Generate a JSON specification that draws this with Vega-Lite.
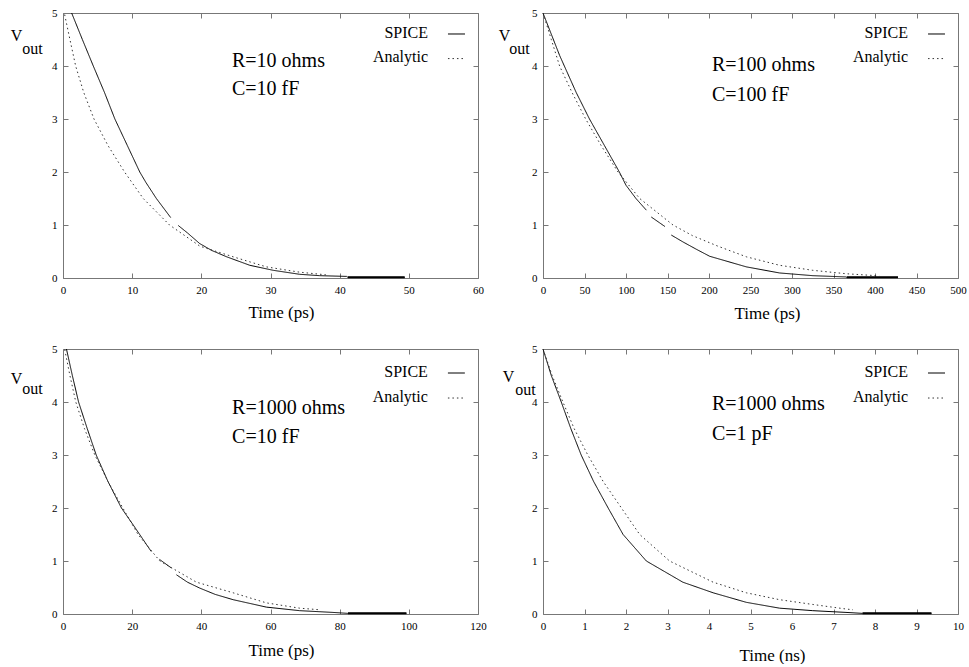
{
  "$schema": "https://vega.github.io/schema/vega-lite/v6.json",
  "padding": {"left": 9, "top": 6, "right": 0, "bottom": 0},
  "config": {
    "font": "Liberation Serif",
    "view": {"stroke": "#777777", "strokeWidth": 1},
    "style": {"guide-title": {"fontWeight": "normal"}},
    "axis": {"domain": false, "grid": false, "tickSize": -5, "tickColor": "#777777", "tickWidth": 1, "labelFontSize": 11, "labelColor": "#000000", "labelPadding": 11, "labelFlush": false, "labelOverlap": false, "titleFontSize": 17, "titleFontWeight": "normal", "titleColor": "#000000", "labelFont": "Liberation Serif", "titleFont": "Liberation Serif"},
    "text": {"font": "Liberation Serif", "color": "#000000"}
  },
  "datasets": {
    "one": [{"k": 1}],
    "p1": [
      {"t":1.25,"v":5.0,"s":"SPICE","g":"a"},{"t":2.8,"v":4.5,"s":"SPICE","g":"a"},{"t":4.38,"v":4.0,"s":"SPICE","g":"a"},{"t":6.0,"v":3.5,"s":"SPICE","g":"a"},{"t":7.5,"v":3.0,"s":"SPICE","g":"a"},{"t":9.3,"v":2.5,"s":"SPICE","g":"a"},{"t":11.1,"v":2.0,"s":"SPICE","g":"a"},{"t":12.0,"v":1.8,"s":"SPICE","g":"a"},{"t":13.5,"v":1.5,"s":"SPICE","g":"a"},{"t":15.57,"v":1.14,"s":"SPICE","g":"a"},
      {"t":16.67,"v":0.99,"s":"SPICE","g":"b"},{"t":18.0,"v":0.85,"s":"SPICE","g":"b"},{"t":19.76,"v":0.65,"s":"SPICE","g":"b"},{"t":21.5,"v":0.52,"s":"SPICE","g":"b"},{"t":23.66,"v":0.4,"s":"SPICE","g":"b"},{"t":27.0,"v":0.24,"s":"SPICE","g":"b"},{"t":30.4,"v":0.145,"s":"SPICE","g":"b"},{"t":34.2,"v":0.07,"s":"SPICE","g":"b"},{"t":37.1,"v":0.044,"s":"SPICE","g":"b"},{"t":41.0,"v":0.03,"s":"SPICE","g":"b"},{"t":41.2,"v":0.012,"s":"SPICE","g":"b"},
      {"t":41.2,"v":0.012,"s":"SPICE","g":"t"},{"t":49.4,"v":0.012,"s":"SPICE","g":"t"},
      {"t":0.24,"v":4.97,"s":"Analytic","g":"a"},{"t":1.0,"v":4.5,"s":"Analytic","g":"a"},{"t":1.83,"v":4.0,"s":"Analytic","g":"a"},{"t":3.0,"v":3.5,"s":"Analytic","g":"a"},{"t":4.48,"v":3.0,"s":"Analytic","g":"a"},{"t":6.5,"v":2.5,"s":"Analytic","g":"a"},{"t":8.9,"v":2.0,"s":"Analytic","g":"a"},{"t":11.6,"v":1.5,"s":"Analytic","g":"a"},{"t":15.4,"v":1.0,"s":"Analytic","g":"a"},{"t":19.8,"v":0.6,"s":"Analytic","g":"a"},{"t":24.6,"v":0.4,"s":"Analytic","g":"a"},{"t":29.4,"v":0.21,"s":"Analytic","g":"a"},{"t":34.2,"v":0.11,"s":"Analytic","g":"a"},{"t":38.0,"v":0.06,"s":"Analytic","g":"a"}
    ],
    "p2": [
      {"t":0,"v":5.0,"s":"SPICE","g":"a"},{"t":10,"v":4.6,"s":"SPICE","g":"a"},{"t":20,"v":4.2,"s":"SPICE","g":"a"},{"t":30,"v":3.85,"s":"SPICE","g":"a"},{"t":40,"v":3.5,"s":"SPICE","g":"a"},{"t":56,"v":3.0,"s":"SPICE","g":"a"},{"t":74,"v":2.5,"s":"SPICE","g":"a"},{"t":92,"v":2.0,"s":"SPICE","g":"a"},{"t":100,"v":1.75,"s":"SPICE","g":"a"},{"t":112,"v":1.5,"s":"SPICE","g":"a"},{"t":124.5,"v":1.28,"s":"SPICE","g":"a"},
      {"t":130.5,"v":1.15,"s":"SPICE","g":"b"},{"t":140.6,"v":1.04,"s":"SPICE","g":"b"},{"t":147,"v":0.97,"s":"SPICE","g":"b"},
      {"t":154.6,"v":0.81,"s":"SPICE","g":"c"},{"t":168.7,"v":0.68,"s":"SPICE","g":"c"},{"t":185,"v":0.54,"s":"SPICE","g":"c"},{"t":200.8,"v":0.41,"s":"SPICE","g":"c"},{"t":245,"v":0.21,"s":"SPICE","g":"c"},{"t":285,"v":0.095,"s":"SPICE","g":"c"},{"t":325,"v":0.044,"s":"SPICE","g":"c"},{"t":365,"v":0.02,"s":"SPICE","g":"c"},{"t":366,"v":0.012,"s":"SPICE","g":"c"},
      {"t":366,"v":0.012,"s":"SPICE","g":"t"},{"t":427.7,"v":0.012,"s":"SPICE","g":"t"},
      {"t":0,"v":5.0,"s":"Analytic","g":"a"},{"t":10,"v":4.5,"s":"Analytic","g":"a"},{"t":20,"v":4.0,"s":"Analytic","g":"a"},{"t":35,"v":3.5,"s":"Analytic","g":"a"},{"t":51.4,"v":3.0,"s":"Analytic","g":"a"},{"t":70,"v":2.5,"s":"Analytic","g":"a"},{"t":90.4,"v":2.0,"s":"Analytic","g":"a"},{"t":116.5,"v":1.5,"s":"Analytic","g":"a"},{"t":156.6,"v":1.0,"s":"Analytic","g":"a"},{"t":180,"v":0.8,"s":"Analytic","g":"a"},{"t":210.8,"v":0.6,"s":"Analytic","g":"a"},{"t":245,"v":0.4,"s":"Analytic","g":"a"},{"t":285,"v":0.24,"s":"Analytic","g":"a"},{"t":325,"v":0.145,"s":"Analytic","g":"a"},{"t":365.5,"v":0.08,"s":"Analytic","g":"a"},{"t":401.6,"v":0.044,"s":"Analytic","g":"a"},{"t":405,"v":0.04,"s":"Analytic","g":"a"}
    ],
    "p3": [
      {"t":1,"v":5.0,"s":"SPICE","g":"a"},{"t":2.7,"v":4.5,"s":"SPICE","g":"a"},{"t":4.5,"v":4.0,"s":"SPICE","g":"a"},{"t":7,"v":3.5,"s":"SPICE","g":"a"},{"t":9.6,"v":3.0,"s":"SPICE","g":"a"},{"t":13,"v":2.5,"s":"SPICE","g":"a"},{"t":16.9,"v":2.0,"s":"SPICE","g":"a"},{"t":20.2,"v":1.69,"s":"SPICE","g":"a"},{"t":25.5,"v":1.18,"s":"SPICE","g":"a"},
      {"t":27.9,"v":1.03,"s":"SPICE","g":"b"},{"t":31.3,"v":0.87,"s":"SPICE","g":"b"},
      {"t":32.8,"v":0.74,"s":"SPICE","g":"c"},{"t":36,"v":0.6,"s":"SPICE","g":"c"},{"t":39.5,"v":0.49,"s":"SPICE","g":"c"},{"t":44,"v":0.37,"s":"SPICE","g":"c"},{"t":49.2,"v":0.27,"s":"SPICE","g":"c"},{"t":58.8,"v":0.13,"s":"SPICE","g":"c"},{"t":68.4,"v":0.063,"s":"SPICE","g":"c"},{"t":78,"v":0.03,"s":"SPICE","g":"c"},{"t":82.4,"v":0.012,"s":"SPICE","g":"c"},
      {"t":82.4,"v":0.012,"s":"SPICE","g":"t"},{"t":99.3,"v":0.012,"s":"SPICE","g":"t"},
      {"t":0.5,"v":4.99,"s":"Analytic","g":"a"},{"t":2,"v":4.5,"s":"Analytic","g":"a"},{"t":3.7,"v":4.0,"s":"Analytic","g":"a"},{"t":6.2,"v":3.5,"s":"Analytic","g":"a"},{"t":9.2,"v":3.0,"s":"Analytic","g":"a"},{"t":13,"v":2.5,"s":"Analytic","g":"a"},{"t":17.3,"v":2.0,"s":"Analytic","g":"a"},{"t":21.7,"v":1.5,"s":"Analytic","g":"a"},{"t":28,"v":1.0,"s":"Analytic","g":"a"},{"t":38.6,"v":0.6,"s":"Analytic","g":"a"},{"t":49.2,"v":0.4,"s":"Analytic","g":"a"},{"t":58.8,"v":0.21,"s":"Analytic","g":"a"},{"t":68.4,"v":0.11,"s":"Analytic","g":"a"},{"t":74.2,"v":0.08,"s":"Analytic","g":"a"}
    ],
    "p4": [
      {"t":0,"v":5.0,"s":"SPICE","g":"a"},{"t":0.2,"v":4.5,"s":"SPICE","g":"a"},{"t":0.44,"v":4.0,"s":"SPICE","g":"a"},{"t":0.67,"v":3.5,"s":"SPICE","g":"a"},{"t":0.92,"v":3.0,"s":"SPICE","g":"a"},{"t":1.22,"v":2.5,"s":"SPICE","g":"a"},{"t":1.57,"v":2.0,"s":"SPICE","g":"a"},{"t":1.93,"v":1.5,"s":"SPICE","g":"a"},{"t":2.49,"v":1.0,"s":"SPICE","g":"a"},{"t":3.37,"v":0.6,"s":"SPICE","g":"a"},{"t":4.1,"v":0.4,"s":"SPICE","g":"a"},{"t":4.9,"v":0.22,"s":"SPICE","g":"a"},{"t":5.7,"v":0.11,"s":"SPICE","g":"a"},{"t":6.5,"v":0.063,"s":"SPICE","g":"a"},{"t":7.3,"v":0.03,"s":"SPICE","g":"a"},{"t":7.7,"v":0.012,"s":"SPICE","g":"a"},
      {"t":7.7,"v":0.012,"s":"SPICE","g":"t"},{"t":9.36,"v":0.012,"s":"SPICE","g":"t"},
      {"t":0,"v":5.0,"s":"Analytic","g":"a"},{"t":0.22,"v":4.5,"s":"Analytic","g":"a"},{"t":0.48,"v":4.0,"s":"Analytic","g":"a"},{"t":0.75,"v":3.5,"s":"Analytic","g":"a"},{"t":1.08,"v":3.0,"s":"Analytic","g":"a"},{"t":1.45,"v":2.5,"s":"Analytic","g":"a"},{"t":1.89,"v":2.0,"s":"Analytic","g":"a"},{"t":2.33,"v":1.5,"s":"Analytic","g":"a"},{"t":3.05,"v":1.0,"s":"Analytic","g":"a"},{"t":4.1,"v":0.6,"s":"Analytic","g":"a"},{"t":4.9,"v":0.4,"s":"Analytic","g":"a"},{"t":5.7,"v":0.27,"s":"Analytic","g":"a"},{"t":6.5,"v":0.18,"s":"Analytic","g":"a"},{"t":7.3,"v":0.094,"s":"Analytic","g":"a"},{"t":7.47,"v":0.08,"s":"Analytic","g":"a"}
    ]
  },
  "columns": 2,
  "spacing": {"row": 71, "column": 65},
  "bounds": "flush",
  "concat": [
    {
      "width": 415, "height": 265,
      "resolve": {"axis": {"x": "independent", "y": "independent"}},
      "layer": [
        {
          "data": {"name": "p1"},
          "mark": {"type": "line", "strokeWidth": 1},
          "encoding": {
            "x": {"field": "t", "type": "quantitative", "scale": {"domain": [0, 60], "nice": false, "zero": false}, "axis": {"orient": "bottom", "values": [0,10,20,30,40,50,60], "title": "Time (ps)", "titleX": 218, "titleY": 39, "titleAlign": "center", "titleBaseline": "alphabetic", "titleFontWeight": "normal"}},
            "y": {"field": "v", "type": "quantitative", "scale": {"domain": [0, 5], "nice": false}, "axis": {"orient": "left", "values": [0,1,2,3,4,5], "title": "V", "titleX": -47, "titleY": 27, "titleAngle": 0, "titleAlign": "center", "titleBaseline": "alphabetic", "titleFontSize": 16, "titleFontWeight": "normal"}},
            "detail": {"field": "g", "type": "nominal"},
            "color": {"field": "s", "type": "nominal", "scale": {"domain": ["SPICE", "Analytic"], "range": ["#000000", "#333333"]}, "legend": null},
            "strokeDash": {"field": "s", "type": "nominal", "scale": {"domain": ["SPICE", "Analytic"], "range": [[1, 0], [1.5, 3]]}, "legend": null}
          }
        },
        {
          "data": {"name": "p1"},
          "transform": [{"filter": "datum.g === 't'"}],
          "mark": {"type": "line", "strokeWidth": 2, "color": "#000000"},
          "encoding": {"x": {"field": "t", "type": "quantitative", "axis": null}, "y": {"field": "v", "type": "quantitative", "axis": null}}
        },
        {
          "data": {"name": "one"},
          "mark": {"type": "text", "align": "left", "baseline": "alphabetic", "fontSize": 20, "lineHeight": 28, "text": ["R=10 ohms", "C=10 fF"]},
          "encoding": {
            "x": {"datum": 24.43, "type": "quantitative", "axis": {"orient": "top", "values": [0,10,20,30,40,50,60], "labels": false, "title": null}},
            "y": {"datum": 3.98, "type": "quantitative", "axis": {"orient": "right", "values": [0,1,2,3,4,5], "labels": false, "title": "out", "titleX": -446, "titleY": 40, "titleAngle": 0, "titleAlign": "center", "titleBaseline": "alphabetic", "titleFontSize": 16, "titleFontWeight": "normal"}}
          }
        },
        {
          "data": {"name": "one"},
          "mark": {"type": "text", "align": "right", "baseline": "alphabetic", "fontSize": 16, "lineHeight": 24, "text": ["SPICE", "Analytic"]},
          "encoding": {"x": {"datum": 52.77, "type": "quantitative", "axis": null}, "y": {"datum": 4.528, "type": "quantitative", "axis": null}}
        },
        {
          "data": {"name": "one"},
          "mark": {"type": "rule", "color": "#000000", "strokeWidth": 1},
          "encoding": {"x": {"datum": 55.66, "type": "quantitative", "axis": null}, "x2": {"datum": 58.12}, "y": {"datum": 4.604, "type": "quantitative", "axis": null}}
        },
        {
          "data": {"name": "one"},
          "mark": {"type": "rule", "color": "#333333", "strokeWidth": 1, "strokeDash": [1.5, 3]},
          "encoding": {"x": {"datum": 55.66, "type": "quantitative", "axis": null}, "x2": {"datum": 58.12}, "y": {"datum": 4.14, "type": "quantitative", "axis": null}}
        }
      ]
    },
    {
      "width": 415, "height": 265,
      "resolve": {"axis": {"x": "independent", "y": "independent"}},
      "layer": [
        {
          "data": {"name": "p2"},
          "mark": {"type": "line", "strokeWidth": 1},
          "encoding": {
            "x": {"field": "t", "type": "quantitative", "scale": {"domain": [0, 500], "nice": false}, "axis": {"orient": "bottom", "values": [0,50,100,150,200,250,300,350,400,450,500], "title": "Time (ps)", "titleX": 224, "titleY": 40, "titleAlign": "center", "titleBaseline": "alphabetic", "titleFontWeight": "normal"}},
            "y": {"field": "v", "type": "quantitative", "scale": {"domain": [0, 5], "nice": false}, "axis": {"orient": "left", "values": [0,1,2,3,4,5], "title": "V", "titleX": -39, "titleY": 27, "titleAngle": 0, "titleAlign": "center", "titleBaseline": "alphabetic", "titleFontSize": 16, "titleFontWeight": "normal"}},
            "detail": {"field": "g", "type": "nominal"},
            "color": {"field": "s", "type": "nominal", "scale": {"domain": ["SPICE", "Analytic"], "range": ["#000000", "#333333"]}, "legend": null},
            "strokeDash": {"field": "s", "type": "nominal", "scale": {"domain": ["SPICE", "Analytic"], "range": [[1, 0], [1.5, 3]]}, "legend": null}
          }
        },
        {
          "data": {"name": "p2"},
          "transform": [{"filter": "datum.g === 't'"}],
          "mark": {"type": "line", "strokeWidth": 2, "color": "#000000"},
          "encoding": {"x": {"field": "t", "type": "quantitative", "axis": null}, "y": {"field": "v", "type": "quantitative", "axis": null}}
        },
        {
          "data": {"name": "one"},
          "mark": {"type": "text", "align": "left", "baseline": "alphabetic", "fontSize": 20, "lineHeight": 30, "text": ["R=100 ohms", "C=100 fF"]},
          "encoding": {
            "x": {"datum": 203.6, "type": "quantitative", "axis": {"orient": "top", "values": [0,50,100,150,200,250,300,350,400,450,500], "labels": false, "title": null}},
            "y": {"datum": 3.91, "type": "quantitative", "axis": {"orient": "right", "values": [0,1,2,3,4,5], "labels": false, "title": "out", "titleX": -439, "titleY": 40, "titleAngle": 0, "titleAlign": "center", "titleBaseline": "alphabetic", "titleFontSize": 16, "titleFontWeight": "normal"}}
          }
        },
        {
          "data": {"name": "one"},
          "mark": {"type": "text", "align": "right", "baseline": "alphabetic", "fontSize": 16, "lineHeight": 24, "text": ["SPICE", "Analytic"]},
          "encoding": {"x": {"datum": 439.8, "type": "quantitative", "axis": null}, "y": {"datum": 4.528, "type": "quantitative", "axis": null}}
        },
        {
          "data": {"name": "one"},
          "mark": {"type": "rule", "color": "#000000", "strokeWidth": 1},
          "encoding": {"x": {"datum": 463.9, "type": "quantitative", "axis": null}, "x2": {"datum": 484.3}, "y": {"datum": 4.604, "type": "quantitative", "axis": null}}
        },
        {
          "data": {"name": "one"},
          "mark": {"type": "rule", "color": "#333333", "strokeWidth": 1, "strokeDash": [1.5, 3]},
          "encoding": {"x": {"datum": 463.9, "type": "quantitative", "axis": null}, "x2": {"datum": 484.3}, "y": {"datum": 4.14, "type": "quantitative", "axis": null}}
        }
      ]
    },
    {
      "width": 415, "height": 265,
      "resolve": {"axis": {"x": "independent", "y": "independent"}},
      "layer": [
        {
          "data": {"name": "p3"},
          "mark": {"type": "line", "strokeWidth": 1},
          "encoding": {
            "x": {"field": "t", "type": "quantitative", "scale": {"domain": [0, 120], "nice": false}, "axis": {"orient": "bottom", "values": [0,20,40,60,80,100,120], "title": "Time (ps)", "titleX": 218, "titleY": 41, "titleAlign": "center", "titleBaseline": "alphabetic", "titleFontWeight": "normal"}},
            "y": {"field": "v", "type": "quantitative", "scale": {"domain": [0, 5], "nice": false}, "axis": {"orient": "left", "values": [0,1,2,3,4,5], "title": "V", "titleX": -47, "titleY": 34, "titleAngle": 0, "titleAlign": "center", "titleBaseline": "alphabetic", "titleFontSize": 16, "titleFontWeight": "normal"}},
            "detail": {"field": "g", "type": "nominal"},
            "color": {"field": "s", "type": "nominal", "scale": {"domain": ["SPICE", "Analytic"], "range": ["#000000", "#333333"]}, "legend": null},
            "strokeDash": {"field": "s", "type": "nominal", "scale": {"domain": ["SPICE", "Analytic"], "range": [[1, 0], [1.5, 3]]}, "legend": null}
          }
        },
        {
          "data": {"name": "p3"},
          "transform": [{"filter": "datum.g === 't'"}],
          "mark": {"type": "line", "strokeWidth": 2, "color": "#000000"},
          "encoding": {"x": {"field": "t", "type": "quantitative", "axis": null}, "y": {"field": "v", "type": "quantitative", "axis": null}}
        },
        {
          "data": {"name": "one"},
          "mark": {"type": "text", "align": "left", "baseline": "alphabetic", "fontSize": 20, "lineHeight": 29, "text": ["R=1000 ohms", "C=10 fF"]},
          "encoding": {
            "x": {"datum": 48.9, "type": "quantitative", "axis": {"orient": "top", "values": [0,20,40,60,80,100,120], "labels": false, "title": null}},
            "y": {"datum": 3.77, "type": "quantitative", "axis": {"orient": "right", "values": [0,1,2,3,4,5], "labels": false, "title": "out", "titleX": -446, "titleY": 44, "titleAngle": 0, "titleAlign": "center", "titleBaseline": "alphabetic", "titleFontSize": 16, "titleFontWeight": "normal"}}
          }
        },
        {
          "data": {"name": "one"},
          "mark": {"type": "text", "align": "right", "baseline": "alphabetic", "fontSize": 16, "lineHeight": 25, "text": ["SPICE", "Analytic"]},
          "encoding": {"x": {"datum": 105.5, "type": "quantitative", "axis": null}, "y": {"datum": 4.472, "type": "quantitative", "axis": null}}
        },
        {
          "data": {"name": "one"},
          "mark": {"type": "rule", "color": "#000000", "strokeWidth": 1},
          "encoding": {"x": {"datum": 111.3, "type": "quantitative", "axis": null}, "x2": {"datum": 116.2}, "y": {"datum": 4.547, "type": "quantitative", "axis": null}}
        },
        {
          "data": {"name": "one"},
          "mark": {"type": "rule", "color": "#333333", "strokeWidth": 1, "strokeDash": [1.5, 3]},
          "encoding": {"x": {"datum": 111.3, "type": "quantitative", "axis": null}, "x2": {"datum": 116.2}, "y": {"datum": 4.075, "type": "quantitative", "axis": null}}
        }
      ]
    },
    {
      "width": 415, "height": 265,
      "resolve": {"axis": {"x": "independent", "y": "independent"}},
      "layer": [
        {
          "data": {"name": "p4"},
          "mark": {"type": "line", "strokeWidth": 1},
          "encoding": {
            "x": {"field": "t", "type": "quantitative", "scale": {"domain": [0, 10], "nice": false}, "axis": {"orient": "bottom", "values": [0,1,2,3,4,5,6,7,8,9,10], "title": "Time (ns)", "titleX": 229, "titleY": 46, "titleAlign": "center", "titleBaseline": "alphabetic", "titleFontWeight": "normal"}},
            "y": {"field": "v", "type": "quantitative", "scale": {"domain": [0, 5], "nice": false}, "axis": {"orient": "left", "values": [0,1,2,3,4,5], "title": "V", "titleX": -35, "titleY": 32, "titleAngle": 0, "titleAlign": "center", "titleBaseline": "alphabetic", "titleFontSize": 16, "titleFontWeight": "normal"}},
            "detail": {"field": "g", "type": "nominal"},
            "color": {"field": "s", "type": "nominal", "scale": {"domain": ["SPICE", "Analytic"], "range": ["#000000", "#333333"]}, "legend": null},
            "strokeDash": {"field": "s", "type": "nominal", "scale": {"domain": ["SPICE", "Analytic"], "range": [[1, 0], [1.5, 3]]}, "legend": null}
          }
        },
        {
          "data": {"name": "p4"},
          "transform": [{"filter": "datum.g === 't'"}],
          "mark": {"type": "line", "strokeWidth": 2, "color": "#000000"},
          "encoding": {"x": {"field": "t", "type": "quantitative", "axis": null}, "y": {"field": "v", "type": "quantitative", "axis": null}}
        },
        {
          "data": {"name": "one"},
          "mark": {"type": "text", "align": "left", "baseline": "alphabetic", "fontSize": 20, "lineHeight": 30, "text": ["R=1000 ohms", "C=1 pF"]},
          "encoding": {
            "x": {"datum": 4.07, "type": "quantitative", "axis": {"orient": "top", "values": [0,1,2,3,4,5,6,7,8,9,10], "labels": false, "title": null}},
            "y": {"datum": 3.85, "type": "quantitative", "axis": {"orient": "right", "values": [0,1,2,3,4,5], "labels": false, "title": "out", "titleX": -433, "titleY": 45, "titleAngle": 0, "titleAlign": "center", "titleBaseline": "alphabetic", "titleFontSize": 16, "titleFontWeight": "normal"}}
          }
        },
        {
          "data": {"name": "one"},
          "mark": {"type": "text", "align": "right", "baseline": "alphabetic", "fontSize": 16, "lineHeight": 25, "text": ["SPICE", "Analytic"]},
          "encoding": {"x": {"datum": 8.795, "type": "quantitative", "axis": null}, "y": {"datum": 4.472, "type": "quantitative", "axis": null}}
        },
        {
          "data": {"name": "one"},
          "mark": {"type": "rule", "color": "#000000", "strokeWidth": 1},
          "encoding": {"x": {"datum": 9.277, "type": "quantitative", "axis": null}, "x2": {"datum": 9.687}, "y": {"datum": 4.547, "type": "quantitative", "axis": null}}
        },
        {
          "data": {"name": "one"},
          "mark": {"type": "rule", "color": "#333333", "strokeWidth": 1, "strokeDash": [1.5, 3]},
          "encoding": {"x": {"datum": 9.277, "type": "quantitative", "axis": null}, "x2": {"datum": 9.687}, "y": {"datum": 4.075, "type": "quantitative", "axis": null}}
        }
      ]
    }
  ]
}
